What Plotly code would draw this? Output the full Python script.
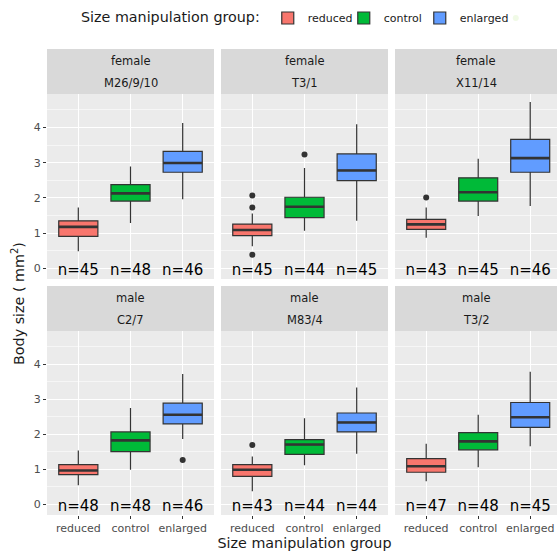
import plotly.graph_objects as go

# ---------------- data ----------------
groups = ["reduced", "control", "enlarged"]
sexes = ["female", "female", "female", "male", "male", "male"]
ids = ["M26/9/10", "T3/1", "X11/14", "C2/7", "M83/4", "T3/2"]
counts = [[45, 48, 46], [45, 44, 45], [43, 45, 46],
          [48, 48, 46], [43, 44, 44], [47, 48, 45]]
lower = [[0.49, 1.29, 1.96], [0.63, 1.07, 1.35], [0.87, 1.49, 1.77],
         [0.55, 0.99, 1.87], [0.38, 1.12, 1.45], [0.66, 1.06, 1.66]]
q1 = [[0.91, 1.91, 2.73], [0.93, 1.44, 2.49], [1.11, 1.91, 2.73],
      [0.85, 1.51, 2.30], [0.80, 1.43, 2.07], [0.92, 1.56, 2.20]]
median = [[1.18, 2.13, 2.99], [1.09, 1.75, 2.78], [1.25, 2.16, 3.13],
          [0.97, 1.83, 2.56], [0.99, 1.71, 2.34], [1.09, 1.80, 2.49]]
q3 = [[1.35, 2.38, 3.32], [1.26, 2.02, 3.25], [1.39, 2.57, 3.66],
      [1.14, 2.07, 2.89], [1.14, 1.85, 2.61], [1.31, 2.05, 2.91]]
upper = [[1.73, 2.89, 4.13], [1.56, 2.85, 4.09], [1.73, 3.11, 4.72],
         [1.54, 2.75, 3.72], [1.37, 2.46, 3.34], [1.73, 2.56, 3.79]]
outliers = [[[], [], []],
            [[2.07, 1.73, 0.39], [3.23], []],
            [[2.01], [], []],
            [[], [], [1.27]],
            [[1.70], [], []],
            [[], [], []]]
y_ticks = [0, 1, 2, 3, 4]

# ---------------- styling ----------------
W, H = 557, 551
colors = ["#F8766D", "#00BA38", "#619CFF"]
edge = "#333333"
font = "DejaVu Sans"
col_px = [(47, 214), (221, 388), (395, 557)]
row_px = [(94, 279), (331, 515)]          # panel top/bottom in px
strip_px = [(49, 94), (286, 331)]
x_ranges = [[0.4, 3.6], [0.4, 3.6], [0.4, 3.515]]
y_range = [-0.3, 4.95]
bw = 0.75

fig = go.Figure()
layout = dict(
    width=W, height=H, margin=dict(l=0, r=0, t=0, b=0, autoexpand=False),
    paper_bgcolor="white", plot_bgcolor="#EBEBEB",
    font=dict(family=font, color="#1A1A1A"),
    showlegend=True,
    legend=dict(orientation="h", x=79 / W, xanchor="left", y=1 - 18 / H, yanchor="middle",
                title=dict(text="Size manipulation group:", side="left",
                           font=dict(size=14.3, color="#1A1A1A")),
                font=dict(size=11, color="#1A1A1A"), bgcolor="rgba(0,0,0,0)",
                itemwidth=30, entrywidth=31, entrywidthmode="pixels", tracegroupgap=0),
)
shapes = []
annotations = []

for i in range(6):
    r, c = divmod(i, 3)
    k = i + 1
    xa = "x" if k == 1 else f"x{k}"
    ya = "y" if k == 1 else f"y{k}"
    xs = [1, 2, 3]
    for g in range(3):
        fig.add_trace(go.Box(
            x=[xs[g]], q1=[q1[i][g]], median=[median[i][g]], q3=[q3[i][g]],
            lowerfence=[lower[i][g]], upperfence=[upper[i][g]],
            width=bw, fillcolor=colors[g], line=dict(color=edge, width=1.2),
            whiskerwidth=0, boxpoints=False, name=groups[g], legendgroup=groups[g],
            showlegend=(i == 0), xaxis=xa, yaxis=ya, hoverinfo="skip"))
        # thick median line (ggplot fatten)
        fig.add_trace(go.Scatter(
            x=[xs[g] - bw / 2, xs[g] + bw / 2], y=[median[i][g], median[i][g]],
            mode="lines", line=dict(color=edge, width=2.6), showlegend=False,
            xaxis=xa, yaxis=ya, hoverinfo="skip"))
        if outliers[i][g]:
            fig.add_trace(go.Scatter(
                x=[xs[g]] * len(outliers[i][g]), y=outliers[i][g], mode="markers",
                marker=dict(color=edge, size=6), showlegend=False,
                xaxis=xa, yaxis=ya, hoverinfo="skip"))
    # n labels
    fig.add_trace(go.Scatter(
        x=xs, y=[-0.07] * 3, mode="text", text=[f"n={n}" for n in counts[i]],
        textposition="middle center", textfont=dict(size=15, color="black", family=font),
        showlegend=False, xaxis=xa, yaxis=ya, cliponaxis=False, hoverinfo="skip"))

    x0, x1 = col_px[c]
    t, b = row_px[r]
    xaxis = dict(
        domain=[x0 / W, x1 / W], range=x_ranges[c], anchor=ya,
        tickvals=xs, ticktext=groups, showticklabels=(r == 1), tickangle=0,
        ticks="outside" if r == 1 else "", ticklen=3, tickcolor=edge,
        tickfont=dict(size=11, color="#4D4D4D", family=font),
        showgrid=True, gridcolor="white", gridwidth=1.1, zeroline=False,
        showline=False,
    )
    if i == 4:
        xaxis["title"] = dict(text="Size manipulation group",
                              font=dict(size=14.3, color="#1A1A1A", family=font), standoff=3)
    layout[f"xaxis{'' if k == 1 else k}"] = xaxis
    layout[f"yaxis{'' if k == 1 else k}"] = dict(
        domain=[1 - b / H, 1 - t / H], range=y_range, anchor=xa,
        tickvals=y_ticks, showticklabels=(c == 0),
        ticks="outside" if c == 0 else "", ticklen=3, tickcolor=edge,
        tickfont=dict(size=11, color="#4D4D4D", family=font),
        showgrid=True, gridcolor="white", gridwidth=1.1, zeroline=False,
        minor=dict(dtick=0.5, tick0=0.5, showgrid=True, gridcolor="#F6F6F6", gridwidth=0.6),
        showline=False,
    )
    # strip
    st, sb = strip_px[r]
    shapes.append(dict(type="rect", xref="paper", yref="paper",
                       x0=x0 / W, x1=x1 / W, y0=1 - sb / H, y1=1 - st / H,
                       fillcolor="#D9D9D9", line=dict(width=0), layer="below"))
    cx = (x0 + x1) / 2 / W
    annotations.append(dict(text=sexes[i], x=cx, y=1 - (st + 12) / H, xref="paper", yref="paper",
                            showarrow=False, xanchor="center", yanchor="middle",
                            font=dict(size=11.5, color="#1A1A1A", family=font)))
    annotations.append(dict(text=ids[i], x=cx, y=1 - (st + 34) / H, xref="paper", yref="paper",
                            showarrow=False, xanchor="center", yanchor="middle",
                            font=dict(size=11.5, color="#1A1A1A", family=font)))

# spacer legend entry so the last legend label is not clipped (invisible)
fig.add_trace(go.Scatter(x=[1], y=[-10], mode="markers", marker=dict(opacity=0),
                         name=" ", showlegend=True, hoverinfo="skip"))

annotations.append(dict(text="Body size ( mm<sup>2</sup>)", x=18 / W, y=1 - 304 / H,
                        xref="paper", yref="paper", showarrow=False, textangle=-90,
                        xanchor="center", yanchor="middle",
                        font=dict(size=14.3, color="#1A1A1A", family=font)))

layout["shapes"] = shapes
layout["annotations"] = annotations
fig.update_layout(**layout)
fig.write_html("out.html", config={"displayModeBar": False},
               post_script="document.body.style.margin='0';document.body.style.overflow='hidden';")
